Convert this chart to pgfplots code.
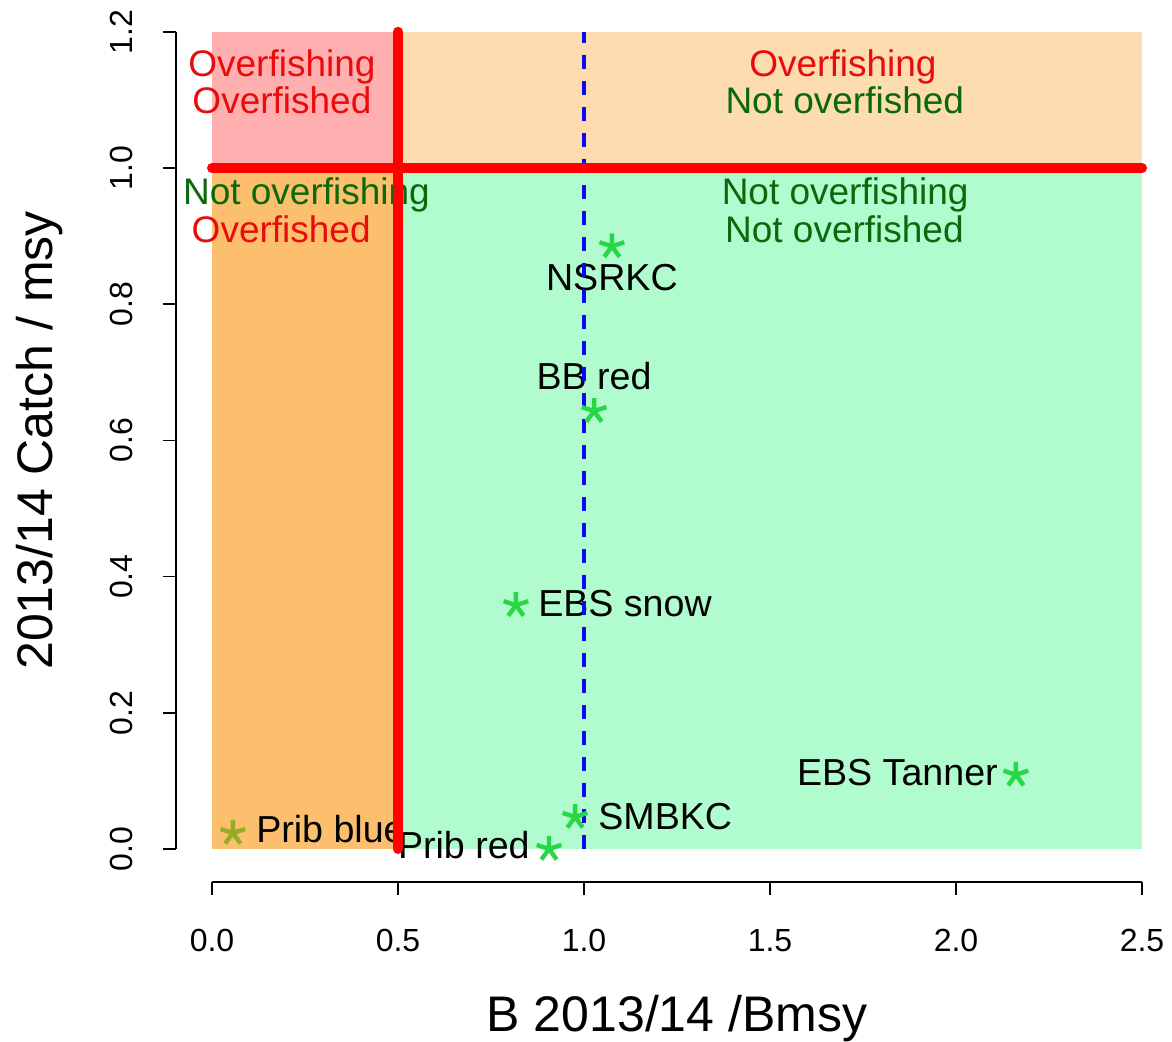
\documentclass[border=0pt]{standalone}
\usepackage{fontspec}
\setmainfont{Liberation Sans}
\usepackage{pgfplots}
\pgfplotsset{compat=1.18}
\definecolor{qpink}{RGB}{255,175,175}
\definecolor{qpeach}{RGB}{253,220,175}
\definecolor{qorange}{RGB}{252,191,110}
\definecolor{qgreen}{RGB}{176,252,206}
\definecolor{txtred}{RGB}{232,12,12}
\definecolor{txtgreen}{RGB}{10,105,10}
\definecolor{stargreen}{RGB}{40,215,70}
\definecolor{starolive}{RGB}{150,172,35}
\definecolor{linered}{RGB}{255,0,0}
\definecolor{lineblue}{RGB}{10,10,235}
\begin{document}
\begin{tikzpicture}
\begin{axis}[
  scale only axis, width=483pt, height=425.1pt,
  xmin=-0.0968, xmax=2.5, ymin=-0.0485, ymax=1.2,
  axis line style={draw=none},
  clip=false,
  xtick={0,0.5,1,1.5,2,2.5},
  ytick={0,0.2,0.4,0.6,0.8,1.0,1.2},
  xtick pos=left, ytick pos=left,
  tick align=outside, major tick length=6.5pt,
  tick style={black, line width=0.75pt},
  tick label style={font=\fontsize{16}{18}\selectfont},
  xticklabel style={anchor=base, yshift=-28pt},
  yticklabel style={anchor=base, xshift=-15pt, rotate=90},
  /pgf/number format/.cd, fixed, fixed zerofill, precision=1, assume math mode=true,
]
% quadrant areas
\addplot[fill=qpink, draw=none] coordinates {(0,1) (0.5,1) (0.5,1.2) (0,1.2)} -- cycle;
\addplot[fill=qpeach, draw=none] coordinates {(0.5,1) (2.5,1) (2.5,1.2) (0.5,1.2)} -- cycle;
\addplot[fill=qorange, draw=none] coordinates {(0,0) (0.5,0) (0.5,1) (0,1)} -- cycle;
\addplot[fill=qgreen, draw=none] coordinates {(0.5,0) (2.5,0) (2.5,1) (0.5,1)} -- cycle;
% axis lines (R style)
\draw[black, line width=0.75pt] (axis cs:0,-0.0485) -- (axis cs:2.5,-0.0485);
\draw[black, line width=0.75pt] (axis cs:-0.0968,0) -- (axis cs:-0.0968,1.2);
% quadrant texts
\begin{scope}[every node/.style={font=\fontsize{18.5}{20}\selectfont, anchor=base, inner sep=0pt}]
\node[txtred] at (axis cs:0.188,1.1344) {Overfishing};
\node[txtred] at (axis cs:0.188,1.080) {Overfished};
\node[txtred] at (axis cs:1.696,1.1344) {Overfishing};
\node[txtgreen] at (axis cs:1.701,1.080) {Not overfished};
\node[txtgreen] at (axis cs:0.254,0.9457) {Not overfishing};
\node[txtred] at (axis cs:0.186,0.8899) {Overfished};
\node[txtgreen] at (axis cs:1.702,0.9457) {Not overfishing};
\node[txtgreen] at (axis cs:1.700,0.8899) {Not overfished};
\end{scope}
% points
\addplot[only marks, mark=star, mark size=6.5pt, mark options={line width=2.2pt}, color=starolive] coordinates {(0.056,0.0235)};
\addplot[only marks, mark=star, mark size=6.5pt, mark options={line width=2.2pt}, color=stargreen] coordinates {
(0.906,0.0) (0.976,0.047) (0.817,0.358) (1.027,0.643) (1.075,0.885) (2.161,0.109)};
% point labels
\begin{scope}[every node/.style={font=\fontsize{18.8}{20}\selectfont, inner sep=0pt, text=black}]
\node[anchor=base west] at (axis cs:0.118,0.0088) {Prib blue};
\node[anchor=base east] at (axis cs:0.855,-0.0147) {Prib red};
\node[anchor=base west] at (axis cs:1.0376,0.0286) {SMBKC};
\node[anchor=base west] at (axis cs:0.876,0.3414) {EBS snow};
\node[anchor=base] at (axis cs:1.027,0.6747) {BB red};
\node[anchor=base] at (axis cs:1.075,0.8201) {NSRKC};
\node[anchor=base east] at (axis cs:2.113,0.0932) {EBS Tanner};
\end{scope}
% reference lines
\addplot[lineblue, line width=2pt, dash pattern=on 7pt off 6pt] coordinates {(1,0) (1,1.2)};
\addplot[linered, line width=5pt, line cap=round] coordinates {(0.5,0) (0.5,1.2)};
\addplot[linered, line width=5pt, line cap=round] coordinates {(0,1) (2.5,1)};
% axis titles
\node[anchor=base, font=\fontsize{25}{28}\selectfont] at (axis cs:1.25,-0.2683) {B 2013/14 /Bmsy};
\node[anchor=base, rotate=90, font=\fontsize{25}{28}\selectfont] at (axis cs:-0.430,0.6) {2013/14 Catch / msy};
\coordinate (bbA) at (axis cs:-0.5699,-0.2834);
\coordinate (bbB) at (axis cs:2.5806,1.2467);
\end{axis}
\pgfresetboundingbox
\useasboundingbox (bbA) rectangle (bbB);
\end{tikzpicture}
\end{document}
